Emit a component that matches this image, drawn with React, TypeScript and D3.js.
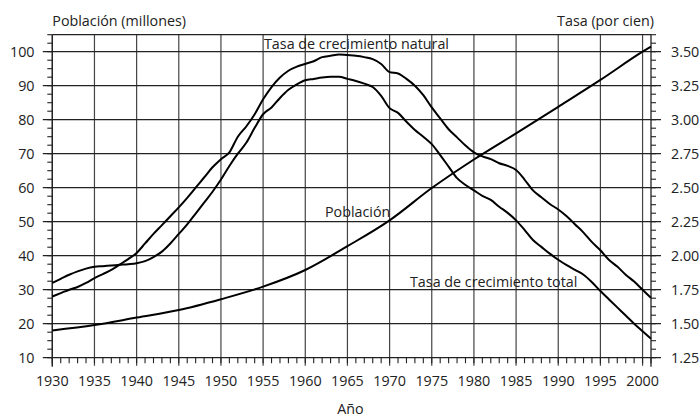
import React from "react";
import * as d3 from "d3";

// ---------- data ----------
const years: number[] = d3.range(1930, 2002);

// Tasa de crecimiento natural (por cien), annual 1930-2001
const naturalRate: number[] = [
  1.70, 1.725, 1.75, 1.77, 1.80, 1.835, 1.865, 1.895, 1.935, 1.975,
  2.02, 2.09, 2.16, 2.225, 2.29, 2.355, 2.425, 2.50, 2.575, 2.65,
  2.71, 2.76, 2.875, 2.95, 3.04, 3.15, 3.24, 3.31, 3.36, 3.39,
  3.41, 3.43, 3.46, 3.47, 3.48, 3.475, 3.47, 3.46, 3.445, 3.41,
  3.35, 3.34, 3.30, 3.25, 3.18, 3.09, 3.01, 2.93, 2.87, 2.81,
  2.76, 2.73, 2.71, 2.68, 2.66, 2.63, 2.56, 2.48, 2.43, 2.38,
  2.34, 2.29, 2.23, 2.17, 2.10, 2.04, 1.97, 1.92, 1.86, 1.81,
  1.75, 1.69,
];

// Tasa de crecimiento total (por cien), annual 1930-2001
const totalRate: number[] = [
  1.80, 1.83, 1.86, 1.885, 1.905, 1.918, 1.923, 1.928, 1.933, 1.938,
  1.945, 1.96, 1.99, 2.03, 2.09, 2.16, 2.23, 2.31, 2.39, 2.47,
  2.56, 2.66, 2.75, 2.83, 2.94, 3.04, 3.09, 3.16, 3.22, 3.26,
  3.29, 3.30, 3.31, 3.315, 3.315, 3.30, 3.285, 3.265, 3.24, 3.175,
  3.085, 3.05, 2.985, 2.925, 2.875, 2.82, 2.74, 2.655, 2.57, 2.52,
  2.48, 2.44, 2.41, 2.36, 2.315, 2.26, 2.19, 2.115, 2.065, 2.015,
  1.97, 1.93, 1.895, 1.86, 1.805, 1.74, 1.68, 1.62, 1.56, 1.50,
  1.445, 1.39,
];

// Población (millones)
const popYears: number[] = [1930, 1935, 1940, 1945, 1950, 1955, 1960, 1965, 1970, 1975, 1980, 1985, 1990, 1995, 2000, 2001];
const population: number[] = [18.0, 19.6, 21.8, 24.0, 27.2, 30.9, 35.8, 42.8, 50.4, 59.9, 68.3, 76.0, 83.8, 91.7, 100.0, 101.5];

const yearTicks: number[] = d3.range(1930, 2001, 5);
const leftTicks: number[] = d3.range(10, 101, 10);
const rightTicks: string[] = ["1.25", "1.50", "1.75", "2.00", "2.25", "2.50", "2.75", "3.00", "3.25", "3.50"];

const leftTitle = "Población (millones)";
const rightTitle = "Tasa (por cien)";
const xTitle = "Año";
const labelNatural = "Tasa de crecimiento natural";
const labelTotal = "Tasa de crecimiento total";
const labelPop = "Población";

// ---------- layout ----------
const W = 700;
const H = 417;
const L = 52.3;
const R = 651;
const T = 34.7;
const B = 357.7;

const FONT = "'Open Sans', sans-serif";
const FS = 14.3;
const TXT = "#222";

export default function App() {
  const x = d3.scaleLinear().domain([1930, 2001]).range([L, R]);
  const yL = d3.scaleLinear().domain([10, 105]).range([B, T]);
  const yR = d3.scaleLinear().domain([1.25, 3.625]).range([B, T]);

  const rateLine = d3
    .line<number>()
    .x((_, i) => x(years[i]))
    .y((d) => yR(d))
    .curve(d3.curveMonotoneX);

  const popLine = d3
    .line<number>()
    .x((_, i) => x(popYears[i]))
    .y((d) => yL(d))
    .curve(d3.curveMonotoneX);

  const minorLeft = d3.range(10, 105.01, 2.5);
  const minorYears = d3.range(1930, 2002, 1);

  return (
    <svg
      width={W}
      height={H}
      viewBox={`0 0 ${W} ${H}`}
      style={{ position: "absolute", left: 0, top: 0, display: "block", background: "#fff" }}
    >
      <rect x={0} y={0} width={W} height={H} fill="#fff" />
      {/* vertical grid */}
      {yearTicks.map((yr) => (
        <line key={"vg" + yr} x1={x(yr)} x2={x(yr)} y1={T} y2={B + 8} stroke="#444" strokeWidth={1.2} />
      ))}
      {/* horizontal grid */}
      {leftTicks.map((v) => (
        <line key={"hg" + v} x1={L - 9.5} x2={R + 10} y1={yL(v)} y2={yL(v)} stroke="#222" strokeWidth={1.3} />
      ))}
      {/* frame */}
      <line x1={L} x2={R} y1={T} y2={T} stroke="#222" strokeWidth={1.2} />
      <line x1={L} x2={L} y1={T} y2={B + 9} stroke="#222" strokeWidth={1.3} />
      <line x1={R} x2={R} y1={T} y2={B + 9} stroke="#222" strokeWidth={1.3} />
      {/* minor ticks left/right */}
      {minorLeft.map((v) => (
        <g key={"mt" + v}>
          <line x1={L - 5} x2={L} y1={yL(v)} y2={yL(v)} stroke="#222" strokeWidth={1.1} />
          <line x1={R} x2={R + 5} y1={yL(v)} y2={yL(v)} stroke="#222" strokeWidth={1.1} />
        </g>
      ))}
      {/* minor ticks bottom */}
      {minorYears.map((yr) => (
        <line key={"xt" + yr} x1={x(yr)} x2={x(yr)} y1={B} y2={B + 5.5} stroke="#222" strokeWidth={1.1} />
      ))}

      {/* series */}
      <path d={popLine(population) || ""} fill="none" stroke="#000" strokeWidth={2} />
      <path d={rateLine(naturalRate) || ""} fill="none" stroke="#000" strokeWidth={2} />
      <path d={rateLine(totalRate) || ""} fill="none" stroke="#000" strokeWidth={2} />

      {/* tick labels */}
      <g fontFamily={FONT} fontSize={FS} fill={TXT}>
        {leftTicks.map((v) => (
          <text key={"lt" + v} x={34.5} y={yL(v)} dy="0.35em" textAnchor="end">
            {v}
          </text>
        ))}
        {rightTicks.map((s) => (
          <text key={"rt" + s} x={671} y={yR(+s)} dy="0.35em" textAnchor="start">
            {s}
          </text>
        ))}
        {yearTicks.map((yr) => (
          <text key={"xl" + yr} x={x(yr)} y={385.5} textAnchor="middle">
            {yr}
          </text>
        ))}
        <text x={L} y={25.5} textAnchor="start">{leftTitle}</text>
        <text x={654} y={25.5} textAnchor="end">{rightTitle}</text>
        <text x={350.5} y={414} textAnchor="middle">{xTitle}</text>
        <text x={264} y={49} textAnchor="start">{labelNatural}</text>
        <text x={410} y={286.5} textAnchor="start">{labelTotal}</text>
        <text x={325} y={216.5} textAnchor="start">{labelPop}</text>
      </g>
    </svg>
  );
}
